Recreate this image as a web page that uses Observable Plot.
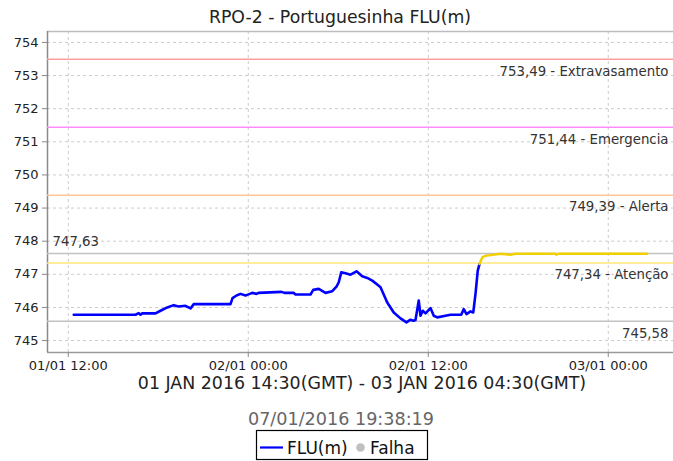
<!DOCTYPE html>
<html>
<head>
<meta charset="utf-8">
<script src="https://cdn.jsdelivr.net/npm/d3@7"></script>
<script src="https://cdn.jsdelivr.net/npm/@observablehq/plot@0.6"></script>
<style>
  html, body { margin: 0; padding: 0; background: #fff; }
  svg { font-family: "DejaVu Sans", sans-serif; }
</style>
</head>
<body>
<div id="chart"></div>
<script>
// ---- data ----
const title = "RPO-2 - Portuguesinha FLU(m)";
const rangeLabel = "01 JAN 2016 14:30(GMT) - 03 JAN 2016 04:30(GMT)";
const stampLabel = "07/01/2016 19:38:19";
const seriesName = "FLU(m)";
const failName = "Falha";

const times = [
  "2016-01-01T12:22","2016-01-01T16:29","2016-01-01T16:42","2016-01-01T16:49","2016-01-01T16:56",
  "2016-01-01T17:49","2016-01-01T18:09","2016-01-01T18:36","2016-01-01T19:02","2016-01-01T19:21",
  "2016-01-01T19:49","2016-01-01T20:09","2016-01-01T20:22","2016-01-01T22:49","2016-01-01T22:57",
  "2016-01-01T23:13","2016-01-01T23:29","2016-01-01T23:49","2016-01-01T23:56",
  "2016-01-02T00:16","2016-01-02T00:33","2016-01-02T00:41","2016-01-02T02:13","2016-01-02T02:25",
  "2016-01-02T03:01","2016-01-02T03:09","2016-01-02T04:09","2016-01-02T04:20","2016-01-02T04:42",
  "2016-01-02T05:09","2016-01-02T05:36","2016-01-02T05:53","2016-01-02T06:02","2016-01-02T06:12",
  "2016-01-02T06:29","2016-01-02T06:49","2016-01-02T07:13","2016-01-02T07:36","2016-01-02T07:56",
  "2016-01-02T08:16","2016-01-02T08:36","2016-01-02T08:49","2016-01-02T09:16","2016-01-02T09:42",
  "2016-01-02T10:09","2016-01-02T10:33","2016-01-02T10:49","2016-01-02T11:01","2016-01-02T11:09",
  "2016-01-02T11:22","2016-01-02T11:29","2016-01-02T11:38","2016-01-02T11:49","2016-01-02T12:09",
  "2016-01-02T12:22","2016-01-02T12:36","2016-01-02T13:09","2016-01-02T13:29","2016-01-02T14:12",
  "2016-01-02T14:22","2016-01-02T14:33","2016-01-02T14:49","2016-01-02T15:00","2016-01-02T15:09",
  "2016-01-02T15:18","2016-01-02T15:25","2016-01-02T15:36","2016-01-02T15:49","2016-01-02T16:09",
  "2016-01-02T16:49","2016-01-02T17:29","2016-01-02T17:49","2016-01-02T20:29","2016-01-02T20:33",
  "2016-01-02T20:41","2016-01-03T02:36"
];
const levels = [
  745.78,745.78,745.83,745.78,745.82,
  745.82,745.90,746.00,746.07,746.03,
  746.05,745.97,746.10,746.10,746.28,
  746.36,746.41,746.36,746.38,
  746.44,746.41,746.44,746.47,746.44,
  746.44,746.39,746.39,746.53,746.56,
  746.44,746.49,746.63,746.76,747.06,
  747.03,746.99,747.09,746.94,746.89,
  746.81,746.69,746.61,746.15,745.85,
  745.67,745.55,745.63,745.60,745.62,
  746.21,745.75,745.90,745.82,745.98,
  745.75,745.70,745.75,745.78,745.78,
  745.95,745.80,745.88,745.85,746.41,
  747.11,747.31,747.51,747.56,747.58,
  747.62,747.59,747.62,747.62,747.59,
  747.62,747.62
];

const thresholdValues = [753.49, 751.44, 749.39, 747.34];
const thresholdNames  = ["Extravasamento", "Emergencia", "Alerta", "Atenção"];
const thresholdColors = ["#ff9d9d", "#ff8cff", "#ffc596", "#ffe77a"];
const maxValue = 747.63;
const minValue = 745.58;

const yTicks = [745, 746, 747, 748, 749, 750, 751, 752, 753, 754];
const xTicks = ["2016-01-01T12:00","2016-01-02T00:00","2016-01-02T12:00","2016-01-03T00:00"];
const xDomain = ["2016-01-01T10:37","2016-01-03T04:21"];
const yDomain = [744.64, 754.33];

// ---- build ----
const utc = s => new Date(s + ":00Z");
const data = times.map((t, i) => ({t: utc(t), v: levels[i]}));
const alertLevel = thresholdValues[3];
const k = data.findIndex(d => d.v >= alertLevel);
const normal = data.slice(0, k);
const above = data.slice(k - 1);
const comma = v => d3.format(".2f")(v).replace(".", ",");
const thresholds = thresholdValues.map((v, i) => ({v, name: thresholdNames[i], color: thresholdColors[i]}));
const fmtX = d3.utcFormat("%d/%m %H:%M");

const W = 673, H = 461;
const xd = xDomain.map(utc);

const chart = Plot.plot({
  width: W,
  height: H,
  marginLeft: 47,
  marginRight: 0,
  marginTop: 31,
  marginBottom: 109,
  style: {background: "#fff", fontFamily: "DejaVu Sans, sans-serif"},
  x: {type: "utc", domain: xd},
  y: {domain: yDomain},
  marks: [
    Plot.gridY(yTicks, {stroke: "#cccccc", strokeOpacity: 1, strokeDasharray: "3,3"}),
    Plot.gridX(xTicks.map(utc), {stroke: "#cccccc", strokeOpacity: 1, strokeDasharray: "3,3"}),
    Plot.ruleY([yDomain[1]], {stroke: "#bdbdbd", strokeWidth: 1.5}),
    Plot.ruleY([yDomain[0]], {stroke: "#9a9a9a", strokeWidth: 1.5}),
    Plot.ruleX([xd[0]], {stroke: "#8a8a8a", strokeWidth: 1.5}),
    Plot.ruleY(thresholds, {y: "v", stroke: "color", strokeWidth: 1.5}),
    Plot.ruleY([maxValue, minValue], {stroke: "#c2c2c2", strokeWidth: 1.5}),
    Plot.text(thresholds, {
      x: () => xd[1], y: "v", text: d => `${comma(d.v)} - ${d.name}`,
      textAnchor: "end", dx: -5, dy: 12, fontSize: 13.3, fill: "#333"
    }),
    Plot.text([minValue], {
      x: () => xd[1], y: d => d, text: d => comma(d),
      textAnchor: "end", dx: -5, dy: 12, fontSize: 13.3, fill: "#333"
    }),
    Plot.text([maxValue], {
      x: () => xd[0], y: d => d, text: d => comma(d),
      textAnchor: "start", dx: 5, dy: -12, fontSize: 13.3, fill: "#333"
    }),
    Plot.line(normal, {x: "t", y: "v", stroke: "#0000ff", strokeWidth: 2.6, curve: "linear"}),
    Plot.line(above, {x: "t", y: "v", stroke: "#f2d000", strokeWidth: 2.4, curve: "linear"}),
    Plot.axisY(yTicks, {tickSize: 5, tickPadding: 4, fontSize: 13, stroke: "#888", fill: "#222", label: null}),
    Plot.axisX(xTicks.map(utc), {tickSize: 5, tickPadding: 3, fontSize: 13, stroke: "#888", fill: "#222", label: null, tickFormat: fmtX})
  ]
});

const svg = d3.select(chart);
svg.append("text").attr("x", 340).attr("y", 22.5).attr("text-anchor", "middle")
  .attr("font-size", 17.3).attr("fill", "#222").text(title);
svg.append("text").attr("x", 362).attr("y", 389).attr("text-anchor", "middle")
  .attr("font-size", 17.4).attr("fill", "#222").text(rangeLabel);
svg.append("text").attr("x", 341).attr("y", 425).attr("text-anchor", "middle")
  .attr("font-size", 17.6).attr("fill", "#666").text(stampLabel);

// legend
const lg = svg.append("g").attr("text-anchor", "start");
lg.append("rect").attr("x", 256.5).attr("y", 430.5).attr("width", 171).attr("height", 29)
  .attr("fill", "#fff").attr("stroke", "#000").attr("stroke-width", 1.2);
lg.append("line").attr("x1", 260).attr("x2", 283).attr("y1", 447.5).attr("y2", 447.5)
  .attr("stroke", "#0000ff").attr("stroke-width", 2.2);
lg.append("text").attr("x", 287).attr("y", 453.5).attr("text-anchor", "start")
  .attr("font-size", 17).attr("fill", "#111").text(seriesName);
lg.append("circle").attr("cx", 360.5).attr("cy", 447.5).attr("r", 4.3).attr("fill", "#c0c0c0");
lg.append("text").attr("x", 370).attr("y", 453.5).attr("text-anchor", "start")
  .attr("font-size", 17).attr("fill", "#111").text(failName);

document.getElementById("chart").appendChild(chart);
</script>
</body>
</html>
